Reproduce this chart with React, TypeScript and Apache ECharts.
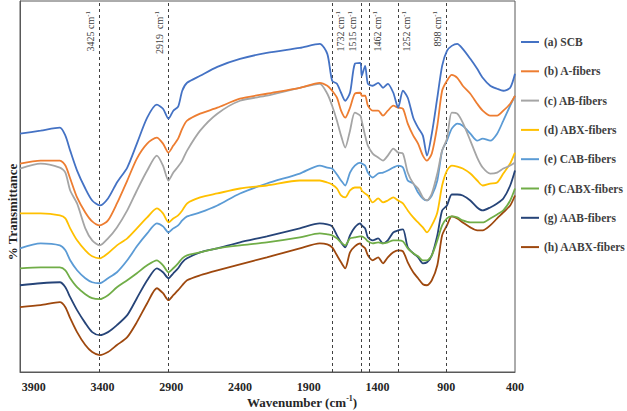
import React, { useEffect, useRef } from "react";
import * as echarts from "echarts";

// Wavenumber grid (cm-1)
const wavenumbers = [4000, 3850, 3710, 3670, 3635, 3585, 3525, 3475, 3420, 3360, 3295, 3220, 3150, 3075, 3005, 2960, 2920, 2885, 2850, 2820, 2785, 2690, 2565, 2400, 2205, 1965, 1820, 1765, 1730, 1695, 1665, 1635, 1600, 1565, 1525, 1515, 1490, 1470, 1435, 1395, 1360, 1325, 1285, 1250, 1215, 1180, 1140, 1105, 1070, 1040, 1005, 965, 930, 895, 860, 820, 780, 725, 675, 635, 580, 530, 485, 435, 400];

// Offset transmittance (arbitrary units) for each sample
const scb = [239, 242, 245, 237, 222, 202, 184, 172, 167, 174, 190, 205, 229, 255, 268, 264, 254, 262, 266, 282, 290, 297, 306, 314, 320, 325, 329, 319, 292, 289, 280, 272, 280, 309, 310, 297, 307, 289, 287, 290, 285, 289, 280, 265, 282, 275, 255, 245, 237, 217, 239, 275, 307, 322, 327, 329, 324, 314, 304, 295, 287, 284, 282, 285, 299];
const aFibers = [209, 212, 212, 207, 194, 175, 160, 151, 147, 152, 169, 192, 214, 229, 235, 229, 220, 227, 234, 244, 252, 259, 265, 274, 279, 285, 290, 287, 282, 275, 262, 255, 265, 279, 280, 277, 277, 267, 262, 262, 257, 262, 267, 265, 264, 249, 237, 229, 217, 212, 219, 247, 282, 292, 298, 295, 287, 279, 269, 262, 257, 257, 262, 269, 277];
const abFibers = [204, 209, 205, 200, 182, 169, 144, 132, 127, 134, 145, 162, 182, 202, 217, 207, 192, 200, 206, 212, 222, 242, 259, 272, 277, 285, 289, 279, 267, 252, 237, 225, 242, 260, 257, 252, 237, 227, 219, 215, 212, 217, 224, 220, 219, 200, 189, 184, 175, 172, 179, 199, 222, 234, 260, 259, 250, 232, 215, 205, 199, 200, 204, 207, 210];
const abxFibers = [159, 159, 157, 154, 144, 132, 122, 116, 114, 119, 127, 134, 144, 155, 164, 159, 150, 154, 157, 162, 169, 175, 179, 184, 187, 192, 192, 190, 188, 184, 177, 175, 182, 185, 185, 182, 179, 177, 170, 174, 170, 172, 175, 172, 169, 162, 155, 150, 145, 140, 147, 160, 187, 202, 207, 206, 204, 199, 192, 187, 189, 190, 199, 209, 220];
const cabFibers = [124, 129, 127, 122, 112, 102, 94, 90, 89, 94, 100, 112, 126, 139, 149, 146, 140, 144, 147, 152, 156, 160, 167, 179, 189, 199, 207, 205, 204, 198, 192, 187, 200, 207, 210, 209, 207, 200, 195, 199, 200, 202, 205, 207, 205, 192, 189, 180, 174, 172, 177, 192, 222, 232, 244, 249, 247, 239, 232, 234, 232, 239, 252, 267, 277];
const cabxFibers = [104, 105, 105, 102, 94, 85, 78, 74, 73, 77, 85, 92, 99, 107, 112, 107, 100, 104, 109, 114, 117, 120, 124, 127, 130, 135, 139, 138, 137, 134, 130, 127, 134, 135, 136, 136, 134, 131, 129, 130, 129, 130, 132, 132, 131, 124, 119, 116, 112, 112, 117, 132, 147, 154, 156, 155, 152, 150, 150, 150, 154, 158, 162, 172, 184];
const aabFibers = [87, 89, 90, 85, 75, 62, 49, 40, 37, 40, 47, 57, 74, 92, 104, 100, 94, 99, 104, 110, 114, 120, 124, 130, 136, 144, 149, 148, 146, 137, 130, 125, 137, 145, 149, 147, 144, 135, 132, 134, 129, 132, 140, 142, 143, 125, 119, 115, 109, 110, 117, 137, 162, 167, 178, 178, 177, 172, 165, 162, 165, 169, 174, 187, 202];
const aabxFibers = [65, 67, 70, 65, 54, 40, 27, 20, 17, 20, 27, 35, 50, 69, 84, 79, 72, 77, 82, 87, 92, 97, 102, 108, 115, 124, 129, 128, 125, 117, 110, 104, 120, 126, 129, 127, 124, 117, 112, 115, 109, 115, 120, 122, 121, 110, 100, 94, 88, 87, 92, 107, 137, 147, 156, 154, 150, 145, 142, 142, 147, 154, 160, 167, 177];

const seriesNames = ["(a) SCB", "(b) A-fibers", "(c) AB-fibers", "(d) ABX-fibers", "(e) CAB-fibers", "(f) CABX-fibers", "(g) AAB-fibers", "(h) AABX-fibers"];
const seriesValues = [scb, aFibers, abFibers, abxFibers, cabFibers, cabxFibers, aabFibers, aabxFibers];
const seriesColors = ["#4472C4", "#ED7D31", "#A5A5A5", "#FFC000", "#5B9BD5", "#70AD47", "#264478", "#9E480E"];

// Marked bands (cm-1) and the side of the line their label sits on
const bandPositions = [3425, 2919, 1732, 1515, 1462, 1252, 898];
const bandLabels = ["3425 cm", "2919  cm", "1732 cm", "1515 cm", "1462 cm", "1252 cm", "898 cm"];
const bandLabelSides = ["left", "left", "right", "left", "right", "right", "left"];

const xTicks = [400, 900, 1400, 1900, 2400, 2900, 3400, 3900];

const SERIF = '"Liberation Serif", "Times New Roman", serif';

export default function App() {
  const ref = useRef<HTMLDivElement>(null);

  useEffect(() => {
    if (!ref.current) return;
    const chart = echarts.init(ref.current, undefined, { renderer: "svg" });

    const series: any[] = seriesNames.map((name, i) => ({
      name,
      type: "line",
      symbol: "none",
      smooth: 0.25,
      lineStyle: { width: 1.8, color: seriesColors[i] },
      itemStyle: { color: seriesColors[i] },
      data: wavenumbers.map((w, j) => [w, seriesValues[i][j]]),
      z: 10 - i,
    }));

    series[0].markLine = {
      silent: true,
      symbol: ["none", "none"],
      animation: false,
      lineStyle: { color: "#404040", type: [3, 3], width: 1 },
      label: {
        show: true,
        distance: [10, 3],
        color: "#404040",
        rich: {
          n: { fontFamily: SERIF, fontSize: 10, color: "#404040", lineHeight: 12 },
          s: { fontFamily: SERIF, fontSize: 7, color: "#404040", lineHeight: 12, verticalAlign: "top" },
        },
      },
      data: bandPositions.map((b, i) => ({
        xAxis: b,
        label: {
          position: bandLabelSides[i] === "left" ? "insideEndTop" : "insideEndBottom",
          formatter: "{n|" + bandLabels[i] + "}{s|-1}",
        },
      })),
    };

    chart.setOption({
      animation: false,
      backgroundColor: "#ffffff",
      grid: {
        left: 20,
        right: 112,
        top: 1,
        bottom: 39,
        show: true,
        borderColor: "#595959",
        borderWidth: 1,
        backgroundColor: "transparent",
      },
      xAxis: {
        type: "value",
        inverse: true,
        min: 400,
        max: 4000,
        interval: 500,
        axisLine: { show: true, lineStyle: { color: "#595959" } },
        axisTick: { show: false },
        splitLine: { show: false },
        axisLabel: {
          margin: 9,
          fontFamily: SERIF,
          fontWeight: "bold",
          fontSize: 12,
          color: "#262626",
          formatter: (v: number) => (xTicks.indexOf(v) >= 0 ? String(v) : ""),
        },
      },
      yAxis: {
        type: "value",
        min: 0,
        max: 372,
        axisLine: { show: true, lineStyle: { color: "#595959" } },
        axisTick: { show: false },
        axisLabel: { show: false },
        splitLine: { show: false },
      },
      legend: {
        orient: "vertical",
        left: 521,
        top: 36,
        padding: 0,
        icon: "rect",
        itemWidth: 18,
        itemHeight: 2,
        itemGap: 17.3,
        data: seriesNames,
        textStyle: { fontFamily: SERIF, fontWeight: "bold", fontSize: 11.5, color: "#404040" },
      },
      graphic: [
        {
          type: "text",
          x: 12,
          y: 212,
          rotation: Math.PI / 2,
          style: {
            text: "% Transmittance",
            font: "bold 13px " + SERIF,
            fill: "#262626",
            textAlign: "center",
            textVerticalAlign: "middle",
          },
        },
        {
          type: "text",
          x: 302,
          y: 402,
          style: {
            text: "{b|Wavenumber (cm}{s|-1}{b|)}",
            rich: {
              b: { fontFamily: SERIF, fontWeight: "bold", fontSize: 13, fill: "#262626", lineHeight: 15 },
              s: { fontFamily: SERIF, fontWeight: "bold", fontSize: 8, fill: "#262626", lineHeight: 15, verticalAlign: "top" },
            },
            textAlign: "center",
            textVerticalAlign: "middle",
          },
        },
      ],
      series,
    });

    return () => chart.dispose();
  }, []);

  return (
    <div
      ref={ref}
      style={{ position: "fixed", left: 0, top: 0, width: 627, height: 411, background: "#fff" }}
    />
  );
}
